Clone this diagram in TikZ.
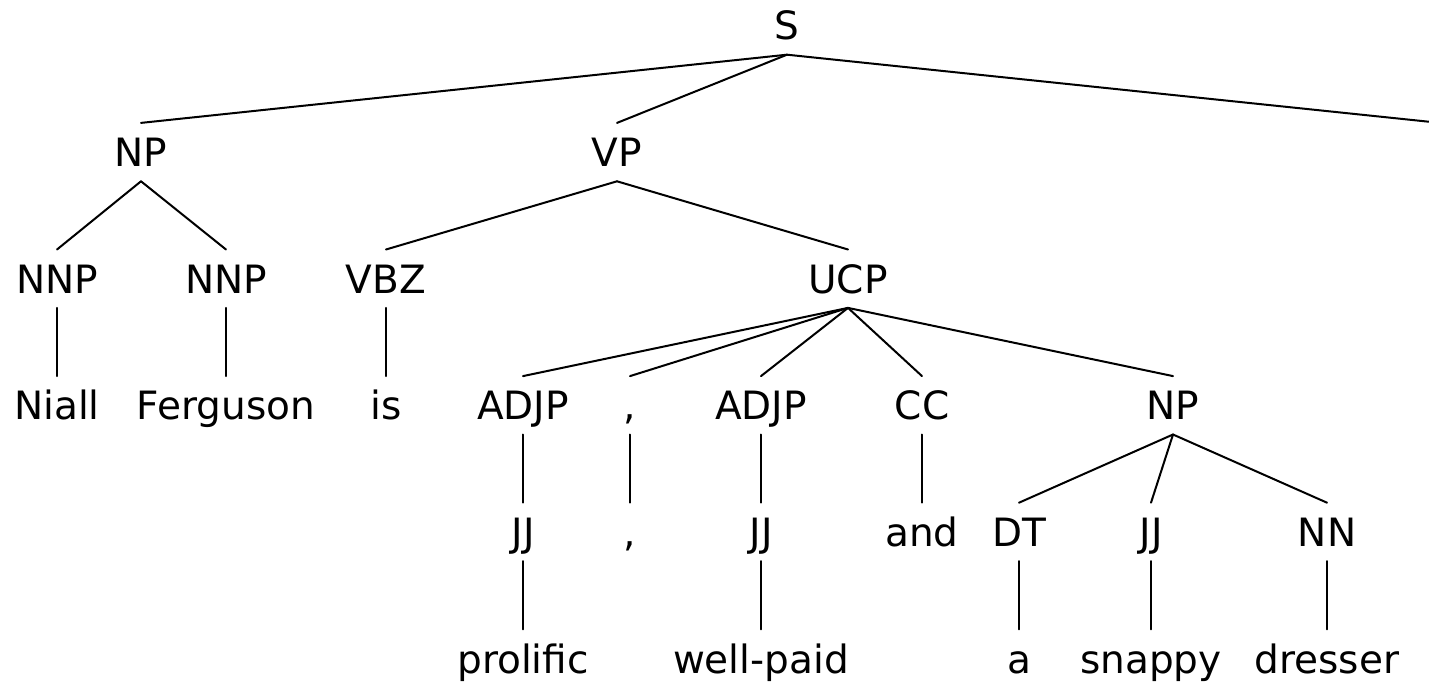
\documentclass[tikz,border=0pt]{standalone}
\usepackage{fontspec}
\setmainfont{DejaVu Sans}
\begin{document}
\begin{tikzpicture}[x=1pt,y=-1pt,
  lbl/.style={anchor=base, inner xsep=0pt, inner ysep=14.5pt,
    text height=29pt, text depth=0pt, font=\fontsize{39}{39}\selectfont},
  edge/.style={line width=2pt, line cap=round}]
\useasboundingbox[fill=white] (0,0) rectangle (1429,684);

% row baselines
\def\ra{40}\def\rb{166.6}\def\rc{293.2}\def\rd{419.8}\def\re{546.4}\def\rf{673}

% labels
\node[lbl] (s) at (787,\ra) {S};

\node[lbl] (np) at (141,\rb) {NP};
\node[lbl] (vp) at (617,\rb) {VP};
\coordinate (rest) at (1441,123);

\node[lbl] (nnpa) at (57,\rc) {NNP};
\node[lbl] (nnpb) at (226,\rc) {NNP};
\node[lbl] (vbz) at (386,\rc) {VBZ};
\node[lbl] (ucp) at (848,\rc) {UCP};

\node[lbl] (niall) at (57,\rd) {Niall};
\node[lbl] (ferguson) at (226,\rd) {Ferguson};
\node[lbl] (is) at (386,\rd) {is};
\node[lbl] (adjpa) at (523,\rd) {ADJP};
\node[lbl] (puncta) at (630,\rd) {,};
\node[lbl] (adjpb) at (761,\rd) {ADJP};
\node[lbl] (cc) at (922,\rd) {CC};
\node[lbl] (npb) at (1173,\rd) {NP};

\node[lbl] (jja) at (523,\re) {JJ};
\node[lbl] (punctb) at (630,\re) {,};
\node[lbl] (jjb) at (761,\re) {JJ};
\node[lbl] (and) at (922,\re) {and};
\node[lbl] (dt) at (1019,\re) {DT};
\node[lbl] (jjc) at (1151,\re) {JJ};
\node[lbl] (nn) at (1327,\re) {NN};

\node[lbl] (prolific) at (523,\rf) {prolific};
\node[lbl] (wellpaid) at (761,\rf) {well-paid};
\node[lbl] (a) at (1019,\rf) {a};
\node[lbl] (snappy) at (1151,\rf) {snappy};
\node[lbl] (dresser) at (1327,\rf) {dresser};

% branches
\begin{scope}
\clip (0,0) rectangle (1429,684);
\draw[edge] (s.south) -- (np.north);
\draw[edge] (s.south) -- (vp.north);
\draw[edge] (s.south) -- (rest);
\end{scope}

\draw[edge] (np.south) -- (nnpa.north);
\draw[edge] (np.south) -- (nnpb.north);
\draw[edge] (vp.south) -- (vbz.north);
\draw[edge] (vp.south) -- (ucp.north);

\draw[edge] (nnpa.south) -- (niall.north);
\draw[edge] (nnpb.south) -- (ferguson.north);
\draw[edge] (vbz.south) -- (is.north);

\foreach \c in {adjpa,puncta,adjpb,cc,npb}
  \draw[edge] (ucp.south) -- (\c.north);

\draw[edge] (adjpa.south) -- (jja.north);
\draw[edge] (puncta.south) -- (punctb.north);
\draw[edge] (adjpb.south) -- (jjb.north);
\draw[edge] (cc.south) -- (and.north);
\foreach \c in {dt,jjc,nn}
  \draw[edge] (npb.south) -- (\c.north);

\draw[edge] (jja.south) -- (prolific.north);
\draw[edge] (jjb.south) -- (wellpaid.north);
\draw[edge] (dt.south) -- (a.north);
\draw[edge] (jjc.south) -- (snappy.north);
\draw[edge] (nn.south) -- (dresser.north);
\end{tikzpicture}
\end{document}
